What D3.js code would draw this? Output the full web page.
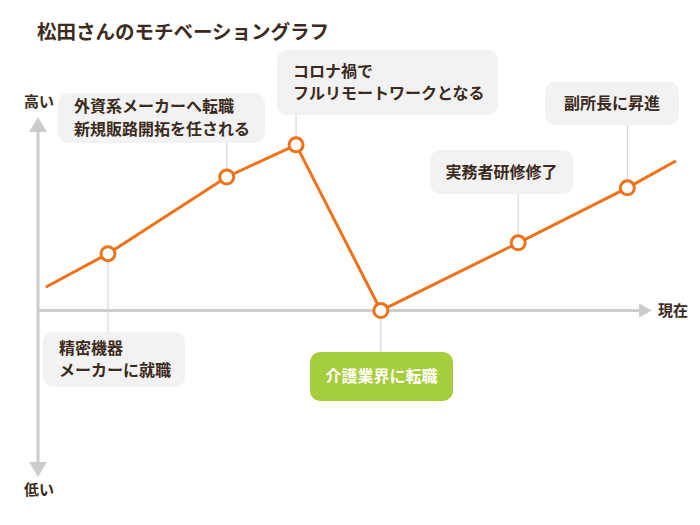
<!DOCTYPE html>
<html>
<head>
<meta charset="utf-8">
<script src="https://cdn.jsdelivr.net/npm/d3@7"></script>
<style>
  body { margin: 0; background: #fff; }
  text { font-family: "Noto Sans CJK JP", "Noto Sans", sans-serif; }
</style>
</head>
<body>
<div id="chart"></div>
<script>

// motivation curve (x = time position 0-100, y = motivation, 0 = axis)
var timePos   = [1.4, 10.9, 29.4, 40.2, 53.4, 74.8, 91.8, 99.2];
var motivation = [12.4, 29.4, 69, 85.6, 0, 35, 63.4, 77];
var hasMarker = [false, true, true, true, true, true, true, false];

// events attached to the marked points (index into the arrays above)
var eventIndex = [1, 2, 3, 4, 5, 6];
var eventLabels = [
  ["精密機器", "メーカーに就職"],
  ["外資系メーカーへ転職", "新規販路開拓を任される"],
  ["コロナ禍で", "フルリモートワークとなる"],
  ["介護業界に転職"],
  ["実務者研修修了"],
  ["副所長に昇進"]
];
var highlight = [false, false, false, true, false, false];

// callout box layout  [x, y, w, h, align]
var boxLayout = [
  [43, 332, 142, 55, "left"],
  [58, 93, 207, 50, "left"],
  [277, 50, 221, 65, "left"],
  [310, 352, 143, 49, "center"],
  [430, 150, 143, 44, "center"],
  [545, 82, 134, 43, "center"]
];

var title = "松田さんのモチベーショングラフ";
var highLabel = "高い", lowLabel = "低い", nowLabel = "現在";

var width = 700, height = 525;
var orange = "#ee7219", axisGray = "#cccccc", textCol = "#3b2a20";

var svg = d3.select("#chart").append("svg")
    .attr("width", width)
    .attr("height", height);

// scales
var x = d3.scaleLinear().domain([0, 100]).range([38, 680]);
var y = d3.scaleLinear().domain([-86, 100]).range([477, 117]);

var axisX = x(0), axisY = y(0);

// title
svg.append("text")
    .attr("x", 37).attr("y", 39)
    .attr("font-size", 19.5).attr("font-weight", 700)
    .attr("fill", textCol)
    .text(title);

//=================================== axes ====================================

// vertical axis
svg.append("line")
    .attr("x1", axisX).attr("x2", axisX)
    .attr("y1", y(100) + 14).attr("y2", y(-86) - 14)
    .attr("stroke", axisGray).attr("stroke-width", 3);
svg.append("path")
    .attr("d", "M" + axisX + "," + y(100) + " L" + (axisX - 9) + "," + (y(100) + 15) + " L" + (axisX + 9) + "," + (y(100) + 15) + "Z")
    .attr("fill", axisGray);
svg.append("path")
    .attr("d", "M" + axisX + "," + y(-86) + " L" + (axisX - 9) + "," + (y(-86) - 15) + " L" + (axisX + 9) + "," + (y(-86) - 15) + "Z")
    .attr("fill", axisGray);

// horizontal axis
var arrowTip = 652;
svg.append("line")
    .attr("x1", axisX).attr("x2", arrowTip - 10)
    .attr("y1", axisY).attr("y2", axisY)
    .attr("stroke", axisGray).attr("stroke-width", 3);
svg.append("path")
    .attr("d", "M" + arrowTip + "," + axisY + " L" + (arrowTip - 13) + "," + (axisY - 7) + " L" + (arrowTip - 13) + "," + (axisY + 7) + "Z")
    .attr("fill", axisGray);

svg.append("text")
    .attr("x", 39).attr("y", 102).attr("dy", ".35em")
    .attr("text-anchor", "middle")
    .attr("font-size", 15).attr("font-weight", 700).attr("fill", textCol)
    .text(highLabel);
svg.append("text")
    .attr("x", 39).attr("y", 490).attr("dy", ".35em")
    .attr("text-anchor", "middle")
    .attr("font-size", 15).attr("font-weight", 700).attr("fill", textCol)
    .text(lowLabel);
svg.append("text")
    .attr("x", 658).attr("y", axisY).attr("dy", ".35em")
    .attr("font-size", 15).attr("font-weight", 700).attr("fill", textCol)
    .text(nowLabel);

//================================= callouts ==================================

var events = eventIndex.map(function(idx, i) {
  return {
    px: x(timePos[idx]), py: y(motivation[idx]),
    lines: eventLabels[i], hl: highlight[i],
    box: boxLayout[i]
  };
});

// leader lines
svg.selectAll("line.leader")
    .data(events).enter().append("line")
    .attr("class", "leader")
    .attr("x1", function(d) { return d.px; })
    .attr("x2", function(d) { return d.px; })
    .attr("y1", function(d) { return d.py; })
    .attr("y2", function(d) {
      var b = d.box;
      return b[1] > d.py ? b[1] : b[1] + b[3];
    })
    .attr("stroke", "#cfcfcf").attr("stroke-width", 1);

var boxG = svg.selectAll("g.callout")
    .data(events).enter().append("g")
    .attr("class", "callout");

boxG.append("rect")
    .attr("x", function(d) { return d.box[0]; })
    .attr("y", function(d) { return d.box[1]; })
    .attr("width", function(d) { return d.box[2]; })
    .attr("height", function(d) { return d.box[3]; })
    .attr("rx", 10)
    .attr("fill", function(d) { return d.hl ? "#a6cd3c" : "#f2f2f2"; });

boxG.each(function(d) {
  var g = d3.select(this);
  var b = d.box, lh = 22.5;
  var n = d.lines.length;
  var cy = b[1] + b[3] / 2 - (n - 1) * lh / 2;
  d.lines.forEach(function(line, k) {
    g.append("text")
      .attr("x", b[4] === "center" ? b[0] + b[2] / 2 : b[0] + 16)
      .attr("y", cy + k * lh)
      .attr("dy", ".35em")
      .attr("text-anchor", b[4] === "center" ? "middle" : "start")
      .attr("font-size", 16).attr("font-weight", 700)
      .attr("fill", d.hl ? "#ffffff" : textCol)
      .text(line);
  });
});

//=================================== line ====================================

var pts = timePos.map(function(t, i) {
  return { t: t, v: motivation[i], m: hasMarker[i] };
});

var lineGen = d3.line()
    .x(function(d) { return x(d.t); })
    .y(function(d) { return y(d.v); });

svg.append("path")
    .datum(pts)
    .attr("d", lineGen)
    .attr("fill", "none")
    .attr("stroke", orange)
    .attr("stroke-width", 3)
    .attr("stroke-linejoin", "round")
    .attr("stroke-linecap", "round");

svg.selectAll("circle.marker")
    .data(pts.filter(function(d) { return d.m; }))
    .enter().append("circle")
    .attr("class", "marker")
    .attr("cx", function(d) { return x(d.t); })
    .attr("cy", function(d) { return y(d.v); })
    .attr("r", 7)
    .attr("fill", "#fff")
    .attr("stroke", orange)
    .attr("stroke-width", 3);

</script>
</body>
</html>
